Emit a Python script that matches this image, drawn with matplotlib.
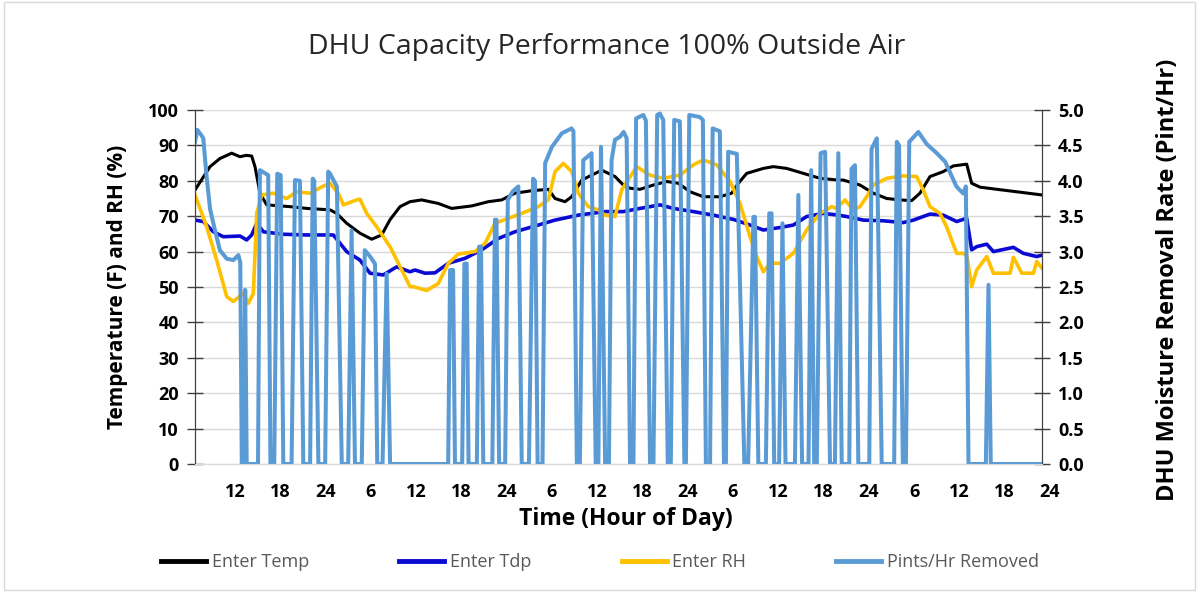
import matplotlib.pyplot as plt
from matplotlib.patches import Rectangle

# time axis is hours counted from midnight of the first day
temp_hours = [6.7, 8.69, 10.01, 11.56, 12.66, 13.5, 14.21, 14.65, 15.31, 16.2, 19.29, 21.5,
              24.59, 25.47, 26.8, 28.56, 30.11, 31.44, 32.54, 33.87, 35.19, 36.74, 38.94,
              40.71, 43.37, 45.57, 47.34, 49.1, 51.32, 53.52, 54.41, 55.73, 56.62, 57.94,
              60.6, 62.36, 63.46, 64.35, 65.67, 67.44, 69.21, 70.75, 72.3, 74.06, 76.27,
              77.82, 78.7, 79.81, 82.01, 83.34, 85.11, 87.31, 89.52, 91.95, 92.61, 94.82,
              96.59, 98.36, 100.12, 101.67, 102.77, 104.1, 105.86, 107.19, 108.96, 109.62,
              110.73, 112.94, 115.59, 118.94]
temp_vals = [77.4, 84, 86.3, 87.8, 86.8, 87.2, 87, 84, 76.5, 73.2, 72.7, 72.2,
             71.8, 70.8, 68, 65.2, 63.5, 64.7, 69, 72.7, 74.1, 74.6, 73.6,
             72.2, 72.9, 74.1, 74.6, 76.5, 77.2, 77.6, 75, 74.1, 75.5, 80.2,
             83, 81.2, 78.8, 77.9, 77.6, 78.8, 79.8, 79.3, 76.9, 75.5, 75.5,
             76.5, 79.3, 82.1, 83.5, 84, 83.5, 82.1, 80.7, 80.2, 80.2, 78.8,
             76.5, 75, 74.6, 74.4, 76.5, 81.2, 82.6, 84.2, 84.7, 79.3,
             78.2, 77.6, 76.9, 76]

tdp_hours = [6.7, 7.8, 9.13, 10.45, 12.66, 13.55, 14.21, 14.88, 15.76, 18.4, 21.5, 25.03,
             26.8, 28.56, 29.89, 31.65, 33.43, 35.19, 35.85, 37.18, 38.5, 40.27, 42.48,
             44.69, 46.89, 49.1, 52.19, 54.41, 57.49, 61.03, 63.46, 65.67, 68.32, 70.08,
             72.74, 75.39, 78.04, 80.25, 82.01, 84.22, 85.98, 87.75, 89.96, 91.95, 93.06,
             95.26, 97.91, 100.56, 101.89, 104.1, 105.86, 107.63, 108.96, 109.62, 110.29,
             111.62, 112.5, 115.15, 116.48, 118.24, 118.94]
tdp_vals = [68.9, 68.5, 65.6, 64.2, 64.4, 63.3, 64.7, 68, 65.6, 64.9, 64.7, 64.7,
            60, 57.6, 53.9, 53.4, 55.7, 54.3, 54.8, 53.9, 54, 56.7, 58.1,
            60.5, 63.7, 65.6, 67.5, 68.9, 70.3, 71.3, 71.3, 72.2, 73.2, 72.2,
            71.3, 70.3, 69.1, 67.5, 66.1, 66.8, 67.5, 69.9, 70.8, 70.3, 69.9,
            68.9, 68.7, 68.2, 68.9, 70.6, 70.3, 68.5, 69.4, 60.5, 61.4,
            62.1, 60, 61.2, 59.5, 58.6, 59]

rh_hours = [6.7, 8.25, 9.57, 10.9, 11.78, 13.1, 13.76, 14.43, 14.88, 15.54, 17.07, 18.85,
            20.17, 21.94, 23.7, 24.59, 25.69, 26.36, 28.13, 28.56, 29.45, 30.78, 32.54,
            34.31, 35.19, 35.63, 37.4, 38.94, 40.27, 41.59, 43.8, 45.13, 46.45, 48.22,
            49.99, 52.19, 53.52, 54.41, 55.51, 56.62, 57.49, 58.82, 60.14, 61.03, 62.36,
            63.24, 65.23, 66.99, 68.76, 70.97, 72.74, 74.06, 75.83, 77.6, 78.92, 80.25,
            81.13, 82.01, 82.9, 84.22, 85.98, 87.75, 89.52, 91.07, 91.73, 92.83, 93.94,
            94.82, 95.71, 96.59, 98.36, 100.56, 102.33, 103.21, 104.1, 105.42, 106.3,
            107.63, 108.52, 109.0, 109.62, 110.29, 111.62, 112.5, 114.71, 115.15, 116.26,
            117.8, 118.24, 118.94]
rh_vals = [76, 67, 57.6, 47.3, 45.9, 48.2, 45.4, 48.2, 70.8, 76, 76.5, 75,
           76.9, 76.5, 78.5, 79.3, 76.5, 73.2, 74.6, 74.8, 70.8, 67, 61.4,
           53.9, 50.1, 50.1, 49, 51, 56.7, 59.3, 60, 62.3, 68, 69.4,
           70.8, 72.7, 74.6, 82.6, 84.9, 82.6, 76.5, 72.7, 71.8, 70.3, 69.9,
           77.4, 84, 81.6, 80.7, 81.6, 84.5, 85.9, 84.5, 79.8, 73.6, 64.2,
           58.6, 54.3, 56.7, 56.7, 59.5, 66.1, 70.8, 72.7, 72.2, 74.6, 71.8,
           72.7, 75.5, 78.8, 80.7, 81.4, 81.2, 77.4, 72.7, 70.8, 67,
           59.5, 59.5, 58.6, 50.1, 54.8, 58.6, 53.9, 53.9, 58.4, 53.9,
           53.9, 57.2, 55.3]

# dehumidifier on/off cycles, pints per hour
pints_hours = [6.7, 7.0, 7.5, 7.8, 8.2, 8.7, 9.35, 10.0, 10.9, 11.78, 12.44, 12.7, 12.9,
               13.15, 13.35, 13.55,
               15.05, 15.3, 16.4, 16.7,
               17.2, 17.6, 18.05, 18.4,
               19.5, 19.95, 20.6, 21.05,
               21.95, 22.3, 22.5, 23.05,
               23.95, 24.35, 24.6, 25.5, 26.15,
               27.0, 27.45, 27.9,
               28.8, 29.2, 29.9, 30.55, 30.85,
               31.55, 32.1, 32.55,
               40.25, 40.5, 40.9, 41.15,
               42.1, 42.4, 42.7, 42.95,
               44.05, 44.35, 44.6, 44.9,
               46.1, 46.45, 46.65, 47.0,
               47.8, 48.15, 48.8, 49.55, 50.0,
               50.95, 51.5, 51.75, 52.1,
               52.75, 53.1, 54.0, 55.3, 56.6, 56.85, 57.3,
               57.7, 58.15, 59.25, 59.8,
               60.15, 60.5, 61.05,
               61.55, 61.9, 62.35, 63.0, 63.5, 63.9, 64.35,
               64.8, 65.15, 66.1, 66.45, 67.0,
               67.45, 67.95, 68.3, 68.75, 69.35,
               69.75, 70.2, 70.95, 71.55,
               71.75, 72.2, 73.6, 74.0, 74.4,
               74.95, 75.3, 76.25, 76.8,
               77.05, 77.35, 78.5, 79.5,
               80.0, 80.7, 80.9, 81.35,
               82.35, 82.8, 83.1, 83.45,
               84.1, 84.55, 84.95,
               86.2, 86.65, 87.15,
               88.0, 88.35, 88.75,
               89.1, 89.6, 90.2, 90.85,
               91.5, 91.95, 92.4,
               93.4, 93.7, 94.15, 94.6,
               96.05, 96.35, 97.05, 97.7,
               99.35, 99.7, 100.0, 100.5,
               100.9, 101.35, 102.55, 103.65, 105.0, 106.1, 107.6, 108.5, 108.85, 109.2,
               111.5, 111.85, 112.15,
               118.94]
pints_vals = [4.55, 4.72, 4.65, 4.6, 4.1, 3.6, 3.3, 3.02, 2.9, 2.88, 2.95, 2.85, 0,
              0, 2.46, 0,
              0, 4.15, 4.08, 0,
              0, 4.1, 4.08, 0,
              0, 4.01, 4.0, 0,
              0, 4.03, 4.0, 0,
              0, 4.13, 4.1, 3.92, 0,
              0, 3.3, 0,
              0, 3.02, 2.93, 2.83, 0,
              0, 2.69, 0,
              0, 2.74, 2.74, 0,
              0, 2.83, 2.83, 0,
              0, 3.07, 3.07, 0,
              0, 3.45, 3.45, 0,
              0, 3.73, 3.85, 3.92, 0,
              0, 4.03, 4.0, 0,
              0, 4.25, 4.48, 4.67, 4.74, 4.7, 0,
              0, 4.29, 4.39, 0,
              0, 4.48, 0,
              0, 4.29, 4.58, 4.62, 4.69, 4.6, 0,
              0, 4.88, 4.93, 4.85, 0,
              0, 4.93, 4.95, 4.86, 0,
              0, 4.86, 4.84, 0,
              0, 4.93, 4.9, 4.86, 0,
              0, 4.74, 4.7, 0,
              0, 4.41, 4.38, 0,
              0, 3.49, 3.49, 0,
              0, 3.54, 3.54, 0,
              0, 3.4, 0,
              0, 3.8, 0,
              0, 4.15, 0,
              0, 4.39, 4.41, 0,
              0, 4.39, 0,
              0, 4.17, 4.22, 0,
              0, 4.45, 4.6, 0,
              0, 4.55, 4.5, 0,
              0, 4.55, 4.69, 4.52, 4.39, 4.27, 3.92, 3.82, 3.92, 0,
              0, 2.53, 0,
              0]

tick_hours = list(range(12, 121, 6))
tick_labels = ["12", "18", "24", "6"] * 4 + ["12", "18", "24"]

fig = plt.figure(figsize=(11.99, 5.92), dpi=100)
fig.patches.append(Rectangle((0.003, 0.004), 0.994, 0.992, transform=fig.transFigure,
                             fill=False, edgecolor="#d9d9d9", lw=1))

ax = fig.add_axes([195 / 1199, 1 - 464 / 592, 847 / 1199, 354 / 592])
ax2 = ax.twinx()

l1, = ax.plot(temp_hours, temp_vals, color="black", lw=2.2, label="Enter Temp")
l2, = ax.plot(tdp_hours, tdp_vals, color="#0a0ad2", lw=2.6, label="Enter Tdp")
l3, = ax.plot(rh_hours, rh_vals, color="#ffc000", lw=2.6, label="Enter RH")
l4, = ax2.plot(pints_hours, pints_vals, color="#5b9bd5", lw=2.9, label="Pints/Hr Removed")

ax.set_xlim(6.7, 118.94)
ax.set_ylim(0, 100)
ax2.set_ylim(0, 5)
ax.set_yticks(range(0, 101, 10))
ax2.set_yticks([i * 0.5 for i in range(11)])
ax2.set_yticklabels([f"{i * 0.5:.1f}" for i in range(11)])
ax.set_xticks([])
ax.grid(axis="y", color="#d9d9d9", lw=1)
ax.set_axisbelow(True)

for a in (ax, ax2):
    a.spines["top"].set_visible(False)
    a.spines["bottom"].set_color("#d9d9d9")
    a.spines["left"].set_color("#404040")
    a.spines["right"].set_color("#404040")
    a.tick_params(axis="y", direction="inout", length=11, width=1, color="#404040",
                  labelsize=13, pad=6)
for t in ax.get_yticklabels() + ax2.get_yticklabels():
    t.set_fontfamily("Open Sans")
    t.set_fontweight("bold")

for h, lab in zip(tick_hours, tick_labels):
    ax.text(h, -0.079, lab, transform=ax.get_xaxis_transform(), ha="center", va="center",
            fontsize=13, fontweight="bold", family="Open Sans", clip_on=False)

fig.text(607 / 1199, 1 - 47 / 592, "DHU Capacity Performance 100% Outside Air",
         ha="center", va="center", fontsize=20.5, family="Open Sans", color="#262626")
fig.text(626 / 1199, 1 - 519 / 592, "Time (Hour of Day)", ha="center", va="center",
         fontsize=16.5, fontweight="bold", family="Open Sans")
fig.text(118 / 1199, 1 - 287 / 592, "Temperature (F) and RH (%)", rotation=90,
         ha="center", va="center", fontsize=15, fontweight="bold", family="Open Sans")
fig.text(1168 / 1199, 1 - 280 / 592, "DHU Moisture Removal Rate (Pint/Hr)", rotation=90,
         ha="center", va="center", fontsize=17, fontweight="bold", family="Open Sans")

leg = fig.legend(handles=[l1, l2, l3, l4], loc="center", bbox_to_anchor=(600 / 1199, 1 - 562 / 592),
                 ncol=4, frameon=False, handlelength=2.5, handletextpad=0.3,
                 columnspacing=5.0, prop={"family": "Open Sans", "size": 13})
for t in leg.get_texts():
    t.set_color("#595959")
for ln in leg.get_lines():
    ln.set_linewidth(3.5)

fig.savefig("out.png", dpi=100)
